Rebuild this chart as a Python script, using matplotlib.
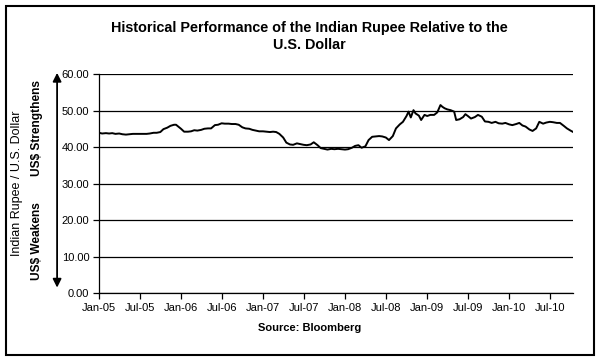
import pandas as pd
import numpy as np
import matplotlib
matplotlib.use('Agg')
import matplotlib.pyplot as plt
import matplotlib.dates as mdates

plt.rcParams['font.family'] = ['Liberation Sans', 'DejaVu Sans']

# INR per USD (roughly twice a month)
dates = [
    '2005-01-01', '2005-01-15', '2005-02-01', '2005-02-15', '2005-03-01', '2005-03-15',
    '2005-04-01', '2005-04-15', '2005-05-01', '2005-05-15', '2005-06-01', '2005-06-15',
    '2005-07-01', '2005-07-15', '2005-08-01', '2005-08-15', '2005-09-01', '2005-09-15',
    '2005-10-01', '2005-10-15', '2005-11-01', '2005-11-15', '2005-12-01', '2005-12-10',
    '2005-12-20',
    '2006-01-01', '2006-01-15', '2006-02-01', '2006-02-15', '2006-03-01', '2006-03-15',
    '2006-04-01', '2006-04-15', '2006-05-01', '2006-05-15', '2006-06-01', '2006-06-15',
    '2006-07-01', '2006-07-15', '2006-08-01', '2006-08-15', '2006-09-01', '2006-09-15',
    '2006-10-01', '2006-10-15', '2006-11-01', '2006-11-15', '2006-12-01', '2006-12-15',
    '2007-01-01', '2007-01-15', '2007-02-01', '2007-02-15', '2007-03-01', '2007-03-15',
    '2007-04-01', '2007-04-15', '2007-05-01', '2007-05-15', '2007-06-01', '2007-06-15',
    '2007-07-01', '2007-07-15', '2007-08-01', '2007-08-15', '2007-09-01', '2007-09-15',
    '2007-10-01', '2007-10-15', '2007-11-01', '2007-11-15', '2007-12-01', '2007-12-15',
    '2008-01-01', '2008-01-15', '2008-02-01', '2008-02-15', '2008-03-01', '2008-03-15',
    '2008-04-01', '2008-04-15', '2008-05-01', '2008-05-15', '2008-06-01', '2008-06-15',
    '2008-07-01', '2008-07-15', '2008-08-01', '2008-08-15', '2008-09-01', '2008-09-15',
    '2008-10-01', '2008-10-10', '2008-10-20', '2008-11-01', '2008-11-10', '2008-11-25',
    '2008-12-05', '2008-12-20',
    '2009-01-01', '2009-01-15', '2009-02-01', '2009-02-15', '2009-03-01', '2009-03-10',
    '2009-03-20', '2009-04-01', '2009-04-15', '2009-05-01', '2009-05-10', '2009-05-25',
    '2009-06-10', '2009-06-20', '2009-07-01', '2009-07-15', '2009-08-01', '2009-08-15',
    '2009-09-01', '2009-09-15', '2009-10-01', '2009-10-15', '2009-11-01', '2009-11-15',
    '2009-12-01', '2009-12-15',
    '2010-01-01', '2010-01-15', '2010-02-01', '2010-02-15', '2010-03-01', '2010-03-15',
    '2010-04-01', '2010-04-15', '2010-05-01', '2010-05-15', '2010-06-01', '2010-06-15',
    '2010-07-01', '2010-07-15', '2010-08-01', '2010-08-15', '2010-09-01', '2010-09-15',
    '2010-10-01', '2010-10-10',
]
inr_usd = [
    43.9, 43.7, 43.8, 43.7, 43.8, 43.6,
    43.7, 43.5, 43.4, 43.5, 43.6, 43.6,
    43.6, 43.6, 43.6, 43.7, 43.9, 43.9,
    44.1, 44.9, 45.3, 45.8, 46.1, 46.1,
    45.6,
    45.0, 44.2, 44.2, 44.3, 44.6, 44.5,
    44.7, 45.0, 45.1, 45.1, 46.0, 46.1,
    46.5, 46.4, 46.4, 46.3, 46.3, 46.1,
    45.4, 45.1, 45.0, 44.7, 44.5, 44.3,
    44.3, 44.2, 44.1, 44.2, 44.1, 43.6,
    42.6, 41.2, 40.7, 40.6, 41.0, 40.8,
    40.6, 40.5, 40.7, 41.3, 40.5, 39.7,
    39.5, 39.3, 39.5, 39.4, 39.5, 39.4,
    39.3, 39.4, 39.8, 40.3, 40.5, 39.8,
    40.2, 41.9, 42.8, 42.9, 43.0, 42.9,
    42.6, 41.9, 43.0, 45.1, 46.2, 46.9,
    48.5, 49.7, 48.1, 50.1, 49.2, 48.6,
    47.4, 48.8,
    48.5, 48.8, 48.8, 49.5, 51.5, 51.0,
    50.6, 50.3, 50.1, 49.7, 47.4, 47.6,
    48.2, 49.0, 48.5, 47.8, 48.2, 48.8,
    48.3, 47.0, 46.9, 46.6, 46.9, 46.5,
    46.4, 46.6,
    46.2, 46.0, 46.3, 46.6, 45.9, 45.6,
    44.8, 44.4, 45.1, 46.9, 46.4, 46.7,
    46.9, 46.8, 46.6, 46.6, 45.8, 45.1,
    44.5, 44.2,
]
y_ticks = [0, 10, 20, 30, 40, 50, 60]

s = pd.Series(inr_usd, index=pd.to_datetime(dates))

fig = plt.figure(figsize=(6.01, 3.63), dpi=100)
ax = fig.add_axes([0.1647, 0.1928, 0.7887, 0.6033])

ax.plot(s.index, s.values, color='black', lw=1.4)

ax.set_ylim(0, 60)
ax.set_yticks(y_ticks)
ax.set_yticklabels(['%.2f' % v for v in y_ticks])
ax.set_xlim(pd.Timestamp('2005-01-01'), pd.Timestamp('2010-10-12'))
ax.xaxis.set_major_locator(mdates.MonthLocator(bymonth=[1, 7]))
ax.xaxis.set_major_formatter(mdates.DateFormatter('%b-%y'))
ax.grid(axis='y', color='black', lw=0.9)
ax.set_axisbelow(True)
for sp in ['top', 'right']:
    ax.spines[sp].set_visible(False)
for sp in ['left', 'bottom']:
    ax.spines[sp].set_linewidth(0.9)
ax.tick_params(axis='both', direction='out', length=4, width=0.9,
               labelsize=8, colors='black', pad=3)

fig.text(0.515, 0.9, 'Historical Performance of the Indian Rupee Relative to the\nU.S. Dollar',
         ha='center', va='center', fontsize=10.4, fontweight='bold', linespacing=1.3)
fig.text(0.516, 0.096, 'Source: Bloomberg', ha='center', va='center',
         fontsize=8, fontweight='bold')

fig.text(0.029, 0.495, 'Indian Rupee / U.S. Dollar', rotation=90, ha='center', va='center',
         fontsize=9)
fig.text(0.062, 0.648, 'US$ Strengthens', rotation=90, ha='center', va='center',
         fontsize=8.6, fontweight='bold')
fig.text(0.062, 0.336, 'US$ Weakens', rotation=90, ha='center', va='center',
         fontsize=8.6, fontweight='bold')
fig.add_artist(matplotlib.patches.FancyArrowPatch(
    (0.095, 0.2), (0.095, 0.807), transform=fig.transFigure,
    arrowstyle='<|-|>,head_length=5,head_width=2.5', color='black', lw=1.3))

fig.add_artist(plt.Rectangle((0.01, 0.022), 0.978, 0.961, transform=fig.transFigure,
                             fill=False, edgecolor='black', lw=1.5))

plt.savefig('out.png', dpi=100)
plt.close('all')
